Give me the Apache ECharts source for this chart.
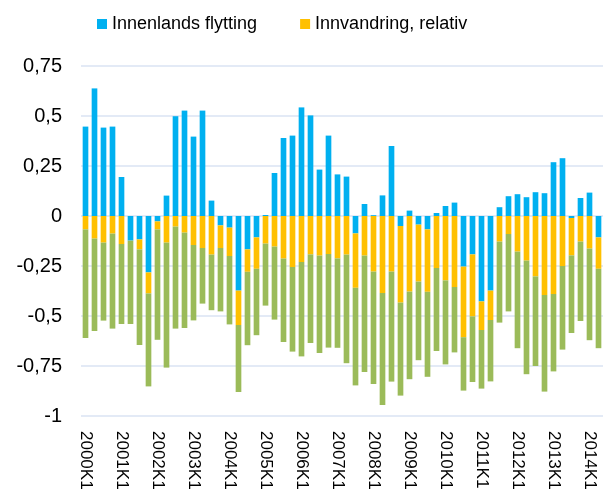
<!DOCTYPE html>
<html>
<head>
<meta charset="utf-8">
<script src="https://cdn.jsdelivr.net/npm/echarts@6/dist/echarts.min.js"></script>
<style>
html,body{margin:0;padding:0;background:#fff;}
#chart{width:604px;height:501px;}
</style>
</head>
<body>
<div id="chart"></div>
<script>
var categories = [
  "2000K1","2000K2","2000K3","2000K4","2001K1","2001K2","2001K3","2001K4",
  "2002K1","2002K2","2002K3","2002K4","2003K1","2003K2","2003K3","2003K4",
  "2004K1","2004K2","2004K3","2004K4","2005K1","2005K2","2005K3","2005K4",
  "2006K1","2006K2","2006K3","2006K4","2007K1","2007K2","2007K3","2007K4",
  "2008K1","2008K2","2008K3","2008K4","2009K1","2009K2","2009K3","2009K4",
  "2010K1","2010K2","2010K3","2010K4","2011K1","2011K2","2011K3","2011K4",
  "2012K1","2012K2","2012K3","2012K4","2013K1","2013K2","2013K3","2013K4",
  "2014K1","2014K2"
];

var innenlands = [
  0.447, 0.638, 0.442, 0.447, 0.195, -0.123, -0.117, -0.282,
  -0.027, 0.102, 0.499, 0.527, 0.397, 0.527, 0.077, -0.047,
  -0.058, -0.373, -0.167, -0.107, 0.005, 0.215, 0.390, 0.402,
  0.543, 0.503, 0.232, 0.402, 0.208, 0.197, -0.087, 0.060,
  0.004, 0.103, 0.350, -0.050, 0.027, -0.043, -0.067, 0.015,
  0.050, 0.067, -0.253, -0.192, -0.427, -0.373, 0.044, 0.099,
  0.109, 0.094, 0.119, 0.114, 0.269, 0.289, -0.010, 0.090,
  0.117, -0.107
];

var innvandring = [
  -0.067, -0.113, -0.133, -0.088, -0.140, 0, -0.050, -0.105,
  -0.040, -0.133, -0.053, -0.083, -0.145, -0.160, -0.193, -0.113,
  -0.142, -0.172, -0.112, -0.157, -0.138, -0.153, -0.213, -0.255,
  -0.230, -0.192, -0.198, -0.190, -0.212, -0.193, -0.272, -0.198,
  -0.278, -0.385, -0.278, -0.383, -0.378, -0.285, -0.312, -0.260,
  -0.322, -0.355, -0.353, -0.310, -0.143, -0.147, -0.128, -0.090,
  -0.178, -0.223, -0.302, -0.395, -0.390, -0.250, -0.187, -0.128,
  -0.163, -0.157
];

var ovrig = [
  -0.543, -0.462, -0.390, -0.475, -0.400, -0.417, -0.478, -0.465,
  -0.552, -0.625, -0.510, -0.477, -0.377, -0.278, -0.278, -0.317,
  -0.342, -0.335, -0.367, -0.332, -0.310, -0.365, -0.417, -0.423,
  -0.472, -0.443, -0.487, -0.468, -0.447, -0.543, -0.488, -0.582,
  -0.562, -0.560, -0.550, -0.465, -0.438, -0.393, -0.425, -0.415,
  -0.420, -0.327, -0.267, -0.328, -0.293, -0.307, -0.405, -0.387,
  -0.483, -0.568, -0.448, -0.483, -0.387, -0.418, -0.388, -0.397,
  -0.458, -0.397
];

var seriesNames = ["Innenlands flytting", "Innvandring, relativ", "Øvrig"];
var colors = ["#00B0F0", "#FFC000", "#9BBB59"];

var chart = echarts.init(document.getElementById('chart'), null, {renderer: 'canvas'});
var FONT = "'Liberation Sans', Arial, sans-serif";

var option = {
  animation: false,
  backgroundColor: '#ffffff',
  textStyle: {fontFamily: FONT},
  legend: {
    data: [seriesNames[0], seriesNames[1]],
    left: 92,
    top: 10,
    itemWidth: 10,
    itemHeight: 10,
    itemGap: 43,
    icon: 'rect',
    textStyle: {fontSize: 18, color: '#000', fontFamily: FONT}
  },
  grid: {left: 81, right: 1, top: 66, bottom: 85, containLabel: false},
  xAxis: {
    type: 'category',
    data: categories,
    boundaryGap: true,
    axisLine: {show: false},
    axisTick: {show: false},
    axisLabel: {
      interval: 3,
      rotate: -90,
      margin: 15,
      fontSize: 17,
      color: '#000',
      fontFamily: FONT
    },
    splitLine: {show: false}
  },
  yAxis: {
    type: 'value',
    min: -1,
    max: 0.75,
    interval: 0.25,
    axisLine: {show: false},
    axisTick: {show: false},
    axisLabel: {
      margin: 19,
      fontSize: 20,
      color: '#000',
      fontFamily: FONT,
      formatter: function (v) { return String(v).replace('.', ','); }
    },
    splitLine: {show: true, lineStyle: {color: '#DAE3F3', width: 1.5}}
  },
  series: [
    {name: seriesNames[0], type: 'bar', stack: 'total', data: innenlands, barWidth: '63%', itemStyle: {color: colors[0]}},
    {name: seriesNames[1], type: 'bar', stack: 'total', data: innvandring, barWidth: '63%', itemStyle: {color: colors[1]}},
    {name: seriesNames[2], type: 'bar', stack: 'total', data: ovrig, barWidth: '63%', itemStyle: {color: colors[2]}}
  ]
};
chart.setOption(option);
</script>
</body>
</html>
